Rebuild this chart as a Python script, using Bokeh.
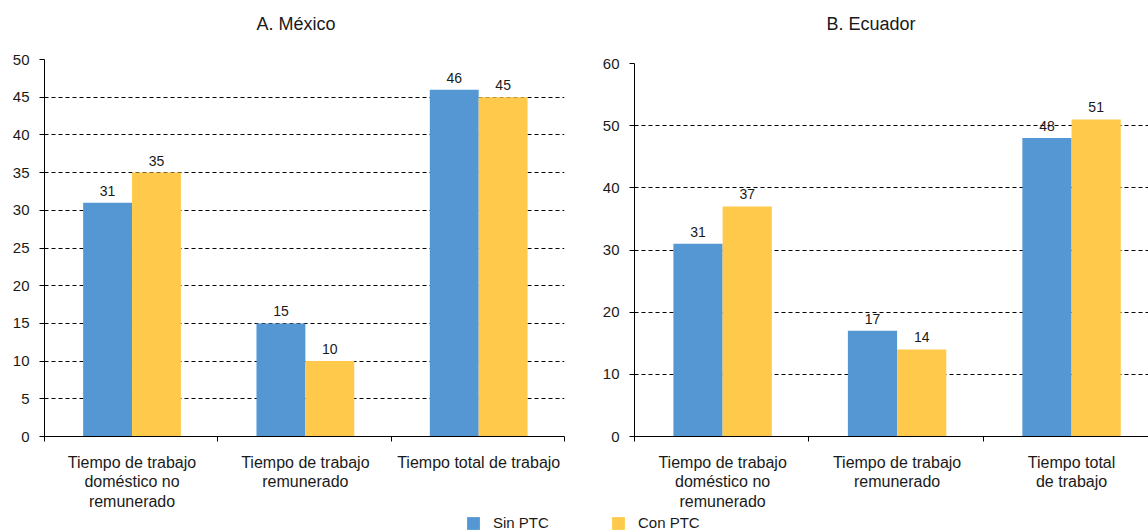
from bokeh.plotting import figure
from bokeh.layouts import column, row
from bokeh.models import ColumnDataSource, FixedTicker, Range1d, Legend, LegendItem, Spacer, Title
from bokeh.embed import file_html
from bokeh.resources import INLINE

categories_mx = ["Tiempo de trabajo\ndoméstico no\nremunerado", "Tiempo de trabajo\nremunerado", "Tiempo total de trabajo"]
categories_ec = ["Tiempo de trabajo\ndoméstico no\nremunerado", "Tiempo de trabajo\nremunerado", "Tiempo total\nde trabajo"]
mx_sin = [31, 15, 46]
mx_con = [35, 10, 45]
ec_sin = [31, 17, 48]
ec_con = [37, 14, 51]
series_names = ["Sin PTC", "Con PTC"]

BLUE = "#5597D2"
YELLOW = "#FFCA4B"
FONT = "Liberation Sans"
TXT = "#1a1a1a"
FIG_H = 512
FRAME_BOTTOM = 437


def make_panel(title, cats, sin, con, ymax, step, width, height, bl, br, bt, xend, title_offset, gap_font):
    p = figure(width=width, height=height, output_backend="svg", toolbar_location=None,
               x_range=Range1d(0, xend), y_range=Range1d(0, ymax),
               min_border_left=bl, min_border_right=br, min_border_top=bt,
               min_border_bottom=height - (FRAME_BOTTOM - (FIG_H - height)))
    # an empty title works as a gap between the frame and the real title
    p.add_layout(Title(text=" ", text_font_size=gap_font, standoff=0), "above")
    p.add_layout(Title(text=title, align="left", vertical_align="top", offset=title_offset,
                       standoff=0, text_font=FONT, text_font_style="normal",
                       text_font_size="18px", text_color=TXT), "above")
    p.outline_line_color = None
    centers = [i + 0.505 for i in range(len(cats))]
    src = ColumnDataSource(dict(
        xs=[c - 0.141 for c in centers], xc=[c + 0.141 for c in centers],
        sin=sin, con=con,
        sl=[str(v) for v in sin], cl=[str(v) for v in con]))
    r1 = p.vbar(x="xs", top="sin", width=0.282, source=src, fill_color=BLUE, line_color=None)
    r2 = p.vbar(x="xc", top="con", width=0.282, source=src, fill_color=YELLOW, line_color=None)
    for xk, yk, lk in (("xs", "sin", "sl"), ("xc", "con", "cl")):
        p.text(x=xk, y=yk, text=lk, source=src, text_align="center", text_baseline="alphabetic",
               y_offset=-12, text_font_size="14px", text_font={"value": FONT}, text_color=TXT)
    p.xgrid.visible = False
    p.ygrid.grid_line_color = "black"
    p.ygrid.grid_line_dash = "4 3"
    p.ygrid.grid_line_width = 1
    p.yaxis.ticker = FixedTicker(ticks=list(range(0, ymax + 1, step)))
    p.yaxis.minor_tick_line_color = None
    p.yaxis.major_tick_out = 5
    p.yaxis.major_tick_in = 0
    p.yaxis.major_label_standoff = 10
    p.yaxis.major_label_text_font = FONT
    p.yaxis.major_label_text_font_size = "15px"
    p.yaxis.major_label_text_color = TXT
    p.yaxis.axis_line_color = "black"
    p.xaxis.ticker = FixedTicker(ticks=centers, minor_ticks=[0, 1, 2, 3])
    p.xaxis.major_label_overrides = {c: lab for c, lab in zip(centers, cats)}
    p.xaxis.major_tick_out = 0
    p.xaxis.major_tick_in = 0
    p.xaxis.minor_tick_out = 5
    p.xaxis.minor_tick_in = 0
    p.xaxis.minor_tick_line_color = "black"
    p.xaxis.major_label_standoff = 12
    p.xaxis.major_label_text_font = FONT
    p.xaxis.major_label_text_font_size = "16px"
    p.xaxis.major_label_text_line_height = 1.15
    p.xaxis.major_label_text_color = TXT
    p.xaxis.axis_line_color = "black"
    return p, r1, r2


p1, a1, a2 = make_panel("A. México", categories_mx, mx_sin, mx_con, 50, 5, 580, FIG_H, 44, 16, 59, 3, 212, "20px")
p2, b1, b2 = make_panel("B. Ecuador", categories_ec, ec_sin, ec_con, 60, 10, 568, FIG_H - 4, 54, 0, 59, 2.946, 192, "23px")

pl = figure(width=1148, height=531 - FIG_H, output_backend="svg", toolbar_location=None,
            x_range=Range1d(0, 1), y_range=Range1d(0, 1),
            min_border_left=0, min_border_right=0, min_border_top=0, min_border_bottom=0)
pl.axis.visible = False
pl.grid.visible = False
pl.outline_line_color = None
d1 = pl.vbar(x=[-5], top=[0], width=0.1, fill_color=BLUE, line_color=None)
d2 = pl.vbar(x=[-5], top=[0], width=0.1, fill_color=YELLOW, line_color=None)
leg = Legend(items=[LegendItem(label=series_names[0], renderers=[d1]),
                    LegendItem(label=series_names[1], renderers=[d2])],
             orientation="horizontal", location=(465, 0), padding=0, margin=0, spacing=0,
             glyph_width=16, glyph_height=16, label_width=117, label_standoff=12,
             label_text_font=FONT, label_text_font_size="15px", label_text_color=TXT,
             border_line_color=None, background_fill_alpha=0)
pl.add_layout(leg, "center")

layout = column(row(p1, column(Spacer(height=4), p2)), pl)
open("out.html", "w").write(file_html(layout, INLINE))
